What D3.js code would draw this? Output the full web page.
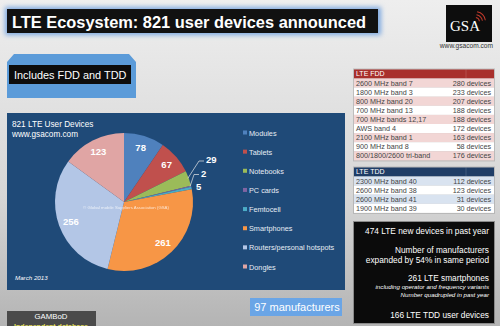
<!DOCTYPE html>
<html>
<head>
<meta charset="utf-8">
<script src="https://cdn.jsdelivr.net/npm/d3@7"></script>
<style>
  html, body { margin: 0; padding: 0; background: #d0d0d0; }
  svg { display: block; font-family: "Liberation Sans", Arial, sans-serif; }
</style>
</head>
<body>
<div id="canvas"></div>
<script>
"use strict";

/* ---------- data ---------- */
let categories = ["Modules", "Tablets", "Notebooks", "PC cards", "Femtocell",
                  "Smartphones", "Routers/personal hotspots", "Dongles"];
let deviceCounts = [78, 67, 29, 2, 5, 261, 256, 123];
let sliceColors = ["#4f81bd", "#c0504d", "#9bbb59", "#8064a2", "#4bacc6",
                   "#f79646", "#b3c6e6", "#e0a5a4"];

let fddBands = ["2600 MHz band 7", "1800 MHz band 3", "800 MHz band 20", "700 MHz band 13",
                "700 MHz bands 12,17", "AWS band 4", "2100 MHz band 1", "900 MHz band 8",
                "800/1800/2600 tri-band"];
let fddDevices = [280, 233, 207, 188, 188, 172, 163, 58, 176];

let tddBands = ["2300 MHz band 40", "2600 MHz band 38", "2600 MHz band 41", "1900 MHz band 39"];
let tddDevices = [112, 123, 31, 30];

/* ---------- canvas ---------- */
let svgWidth = 500;
let svgHeight = 326;

let svg = d3.select("#canvas")
    .append("svg")
    .attr("width", svgWidth)
    .attr("height", svgHeight);

let defs = svg.append("defs");

let bg = defs.append("linearGradient")
    .attr("id", "bg").attr("x1", 0).attr("y1", 0).attr("x2", 0).attr("y2", 1);
bg.append("stop").attr("offset", "0%").attr("stop-color", "#eeeeee");
bg.append("stop").attr("offset", "60%").attr("stop-color", "#d6d6d6");
bg.append("stop").attr("offset", "100%").attr("stop-color", "#b4b4b4");

let glow = defs.append("filter").attr("id", "glow")
    .attr("x", "-10%").attr("y", "-40%").attr("width", "120%").attr("height", "180%");
glow.append("feGaussianBlur").attr("stdDeviation", 2.5);

svg.append("rect")
    .attr("width", svgWidth)
    .attr("height", svgHeight)
    .attr("fill", "url(#bg)");

/* ---------- title bar ---------- */
svg.append("rect")
    .attr("x", 5).attr("y", 7).attr("width", 376).attr("height", 28)
    .attr("fill", "#7aa7e0").attr("filter", "url(#glow)");

svg.append("rect")
    .attr("x", 7).attr("y", 9).attr("width", 371).attr("height", 24)
    .attr("fill", "#111");

svg.append("text")
    .attr("x", 12).attr("y", 27.5)
    .attr("fill", "white")
    .attr("font-size", 16.4)
    .attr("font-weight", "bold")
    .text("LTE Ecosystem: 821 user devices announced");

/* ---------- GSA logo ---------- */
svg.append("rect")
    .attr("x", 446).attr("y", 5).attr("width", 46).attr("height", 37)
    .attr("fill", "#0d0d0d");

svg.append("text")
    .attr("x", 465).attr("y", 31)
    .attr("text-anchor", "middle")
    .attr("fill", "white")
    .attr("font-family", "Liberation Serif, serif")
    .attr("font-size", 15)
    .text("GSA");

[4, 7, 10].forEach(function(r) {
    svg.append("path")
        .attr("d", d3.arc()({innerRadius: r, outerRadius: r + 1,
                             startAngle: 0.2, endAngle: 1.4}))
        .attr("transform", "translate(475,22)")
        .attr("fill", "#c0392b");
});

svg.append("text")
    .attr("x", 493).attr("y", 48)
    .attr("text-anchor", "end")
    .attr("fill", "#333")
    .attr("font-size", 6.6)
    .text("www.gsacom.com");

/* ---------- "Includes FDD and TDD" tab ---------- */
svg.append("path")
    .attr("d", "M7,98 L7,62 L14,54 L129,54 L136,62 L136,98 Z")
    .attr("fill", "#5b9bd9");

svg.append("rect")
    .attr("x", 9).attr("y", 65).attr("width", 122).attr("height", 19)
    .attr("fill", "#0d0d0d");

svg.append("text")
    .attr("x", 14).attr("y", 79)
    .attr("fill", "white")
    .attr("font-size", 10.9)
    .text("Includes FDD and TDD");

/* ---------- chart panel ---------- */
let panel = {x: 7, y: 113, w: 338, h: 177};

svg.append("rect")
    .attr("x", panel.x).attr("y", panel.y)
    .attr("width", panel.w).attr("height", panel.h)
    .attr("fill", "#1f4a78");

svg.append("text")
    .attr("x", 12).attr("y", 127)
    .attr("fill", "white").attr("font-size", 8.2)
    .text("821 LTE User Devices");

svg.append("text")
    .attr("x", 12).attr("y", 137)
    .attr("fill", "white").attr("font-size", 8.2)
    .text("www.gsacom.com");

svg.append("text")
    .attr("x", 15).attr("y", 280)
    .attr("fill", "white").attr("font-size", 6.2)
    .attr("font-style", "italic")
    .text("March 2013");

/* ---------- pie ---------- */
let cx = 124;
let cy = 202;
let radius = 69;

let pieData = d3.pie()
    .sort(null)
    .value(d => d)(deviceCounts);

let arc = d3.arc().innerRadius(0).outerRadius(radius);
let labelArc = d3.arc().innerRadius(radius * 0.82).outerRadius(radius * 0.82);

let pieG = svg.append("g").attr("transform", "translate(" + cx + "," + cy + ")");

pieG.selectAll("path")
    .data(pieData)
    .join("path")
    .attr("d", arc)
    .attr("fill", (d, i) => sliceColors[i]);

pieG.append("text")
    .attr("x", 2).attr("y", 7)
    .attr("text-anchor", "middle")
    .attr("fill", "white").attr("opacity", 0.75)
    .attr("font-size", 4.3)
    .text("© Global mobile Suppliers Association (GSA)");

/* big slices: label inside */
pieG.selectAll("text.big")
    .data(pieData.filter(d => d.value >= 40))
    .join("text")
    .attr("class", "big")
    .attr("transform", d => "translate(" + labelArc.centroid(d) + ")")
    .attr("text-anchor", "middle")
    .attr("dy", "0.35em")
    .attr("fill", "white")
    .attr("font-size", 9.5)
    .attr("font-weight", "bold")
    .text(d => d.value);

/* small slices: callouts to the right */
let smallSlices = pieData.filter(d => d.value < 40);

smallSlices.forEach(function(d, i) {
    let mid = (d.startAngle + d.endAngle) / 2;
    let px = Math.sin(mid) * radius;
    let py = -Math.cos(mid) * radius;
    let ly = -42 + i * 13.5;
    let lx = radius + 13 - i * 5;

    if (i < 2) {
        pieG.append("polyline")
            .attr("points", [[px - 1, py], [lx - 7, ly + 1], [lx - 2, ly + 1]].join(" "))
            .attr("fill", "none")
            .attr("stroke", "#e8e8e8")
            .attr("stroke-width", 0.7);
    }

    pieG.append("text")
        .attr("x", lx).attr("y", ly)
        .attr("dy", "0.35em")
        .attr("fill", "white")
        .attr("font-size", 9.5)
        .attr("font-weight", "bold")
        .text(d.value);
});

/* ---------- legend ---------- */
let legendY = d3.scalePoint()
    .domain(categories)
    .range([133, 267]);

let legend = svg.selectAll("g.legend")
    .data(categories)
    .join("g")
    .attr("class", "legend")
    .attr("transform", d => "translate(243," + legendY(d) + ")");

legend.append("rect")
    .attr("x", 0).attr("y", -2.5)
    .attr("width", 4).attr("height", 4)
    .attr("fill", (d, i) => sliceColors[i]);

legend.append("text")
    .attr("x", 6).attr("y", 0)
    .attr("dy", "0.35em")
    .attr("fill", "#e6ecf4")
    .attr("font-size", 7.3)
    .text(d => d);

/* ---------- 97 manufacturers ---------- */
svg.append("rect")
    .attr("x", 250).attr("y", 298).attr("width", 92).attr("height", 18)
    .attr("fill", "#6aa5e6");

svg.append("text")
    .attr("x", 297).attr("y", 311)
    .attr("text-anchor", "middle")
    .attr("fill", "white")
    .attr("font-size", 11)
    .text("97 manufacturers");

/* ---------- GAMBoD ---------- */
svg.append("rect")
    .attr("x", 7).attr("y", 311).attr("width", 89).attr("height", 18)
    .attr("fill", "#4a4a4a");

svg.append("text")
    .attr("x", 51).attr("y", 318.5)
    .attr("text-anchor", "middle")
    .attr("fill", "white")
    .attr("font-size", 7.8)
    .text("GAMBoD");

svg.append("text")
    .attr("x", 51).attr("y", 328.5)
    .attr("text-anchor", "middle")
    .attr("fill", "#e6e05a")
    .attr("font-size", 7)
    .attr("font-weight", "bold")
    .text("Independent database");

/* ---------- band tables ---------- */
let tableX = 354;
let tableW = 140;

function drawTable(title, bands, counts, top, headColor, stripeColor) {
    let rowH = 9.1;
    let headH = 9;

    svg.append("rect")
        .attr("x", tableX - 1).attr("y", top - 1)
        .attr("width", tableW + 2).attr("height", headH + bands.length * rowH + 2)
        .attr("fill", "#9a9a9a").attr("opacity", 0.5);

    svg.append("rect")
        .attr("x", tableX).attr("y", top)
        .attr("width", tableW).attr("height", headH)
        .attr("fill", headColor);

    svg.append("line")
        .attr("x1", tableX + 112).attr("x2", tableX + 112)
        .attr("y1", top).attr("y2", top + headH)
        .attr("stroke", "white").attr("stroke-opacity", 0.3)
        .attr("stroke-width", 0.5);

    svg.append("text")
        .attr("x", tableX + 2).attr("y", top + headH / 2)
        .attr("dy", "0.35em")
        .attr("fill", "white").attr("font-size", 7)
        .text(title);

    let rowY = d3.scaleBand()
        .domain(d3.range(bands.length))
        .range([top + headH, top + headH + bands.length * rowH]);

    let rows = svg.selectAll(null)
        .data(bands)
        .join("g")
        .attr("transform", (d, i) => "translate(" + tableX + "," + rowY(i) + ")");

    rows.append("rect")
        .attr("width", tableW)
        .attr("height", rowY.bandwidth())
        .attr("fill", (d, i) => i % 2 === 0 ? stripeColor : "#ffffff");

    rows.append("text")
        .attr("x", 2).attr("y", rowY.bandwidth() / 2)
        .attr("dy", "0.35em")
        .attr("fill", "#444").attr("font-size", 7.2)
        .text(d => d);

    rows.append("text")
        .attr("x", tableW - 3).attr("y", rowY.bandwidth() / 2)
        .attr("dy", "0.35em")
        .attr("text-anchor", "end")
        .attr("fill", "#444").attr("font-size", 7.2)
        .text((d, i) => counts[i] + " devices");
}

drawTable("LTE FDD", fddBands, fddDevices, 69.5, "#a8302c", "#f2d6d5");
drawTable("LTE TDD", tddBands, tddDevices, 167.5, "#1f3d66", "#d9e3f0");

/* ---------- facts box ---------- */
svg.append("rect")
    .attr("x", tableX - 1).attr("y", 221)
    .attr("width", tableW + 2).attr("height", 103)
    .attr("fill", "#8a8a8a");

svg.append("rect")
    .attr("x", tableX).attr("y", 222)
    .attr("width", tableW).attr("height", 101)
    .attr("fill", "#0b0b0b");

let facts = [
    {text: "474 LTE new devices in past year", y: 234, size: 8.3, italic: false},
    {text: "Number of manufacturers", y: 253, size: 8.3, italic: false},
    {text: "expanded by 54% in same period", y: 263, size: 8.3, italic: false},
    {text: "261 LTE smartphones", y: 281, size: 8.3, italic: false},
    {text: "including operator and frequency variants", y: 289, size: 6.2, italic: true},
    {text: "Number quadrupled in past year", y: 297, size: 6.2, italic: true},
    {text: "166 LTE TDD user devices", y: 318, size: 8.3, italic: false}
];

svg.selectAll("text.fact")
    .data(facts)
    .join("text")
    .attr("class", "fact")
    .attr("x", 489)
    .attr("y", d => d.y)
    .attr("text-anchor", "end")
    .attr("fill", "white")
    .attr("font-size", d => d.size)
    .attr("font-style", d => d.italic ? "italic" : "normal")
    .text(d => d.text);
</script>
</body>
</html>
